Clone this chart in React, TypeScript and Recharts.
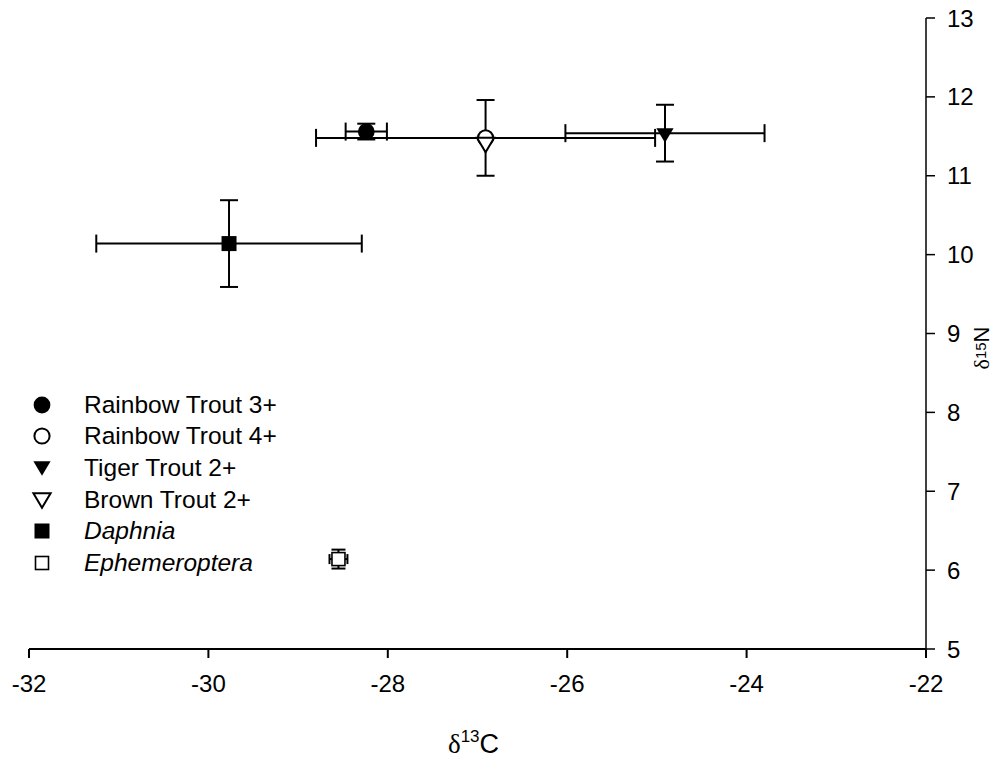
import React from "react";
import { ScatterChart, Scatter, XAxis, YAxis, ErrorBar, Legend, Label } from "recharts";

// axis ticks
const xTicks = [-32, -30, -28, -26, -24, -22];
const yTicks = [5, 6, 7, 8, 9, 10, 11, 12, 13];

// mean values with +/- error (x = d13C, y = d15N)
const rainbowTrout3 = [{ x: -28.24, y: 11.56, xe: 0.23, ye: 0.1 }];
const rainbowTrout4 = [{ x: -26.91, y: 11.48, xe: 1.89, ye: 0.48 }];
const tigerTrout2 = [{ x: -24.91, y: 11.54, xe: 1.11, ye: 0.36 }];
const brownTrout2 = [{ x: -26.91, y: 11.42 }];
const daphnia = [{ x: -29.77, y: 10.14, xe: 1.48, ye: 0.55 }];
const ephemeroptera = [{ x: -28.55, y: 6.14, xe: 0.1, ye: 0.12 }];

const legendItems = [
  { name: "Rainbow Trout 3+", kind: "circle", italic: false },
  { name: "Rainbow Trout 4+", kind: "openCircle", italic: false },
  { name: "Tiger Trout 2+", kind: "triangle", italic: false },
  { name: "Brown Trout 2+", kind: "openTriangle", italic: false },
  { name: "Daphnia", kind: "square", italic: true },
  { name: "Ephemeroptera", kind: "openSquare", italic: true },
];

const FONT = "'Liberation Sans', Arial, sans-serif";

function drawMarker(kind: string, cx: number, cy: number) {
  switch (kind) {
    case "circle":
      return <circle cx={cx} cy={cy} r={8.4} fill="#000" />;
    case "openCircle":
      return <circle cx={cx} cy={cy} r={7.6} fill="#fff" stroke="#000" strokeWidth={2} />;
    case "triangle":
    case "openTriangle": {
      const h = 14.5;
      const w = 8.6;
      const pts = `${cx - w},${cy - h / 3} ${cx + w},${cy - h / 3} ${cx},${cy + (2 * h) / 3}`;
      return kind === "triangle" ? (
        <polygon points={pts} fill="#000" />
      ) : (
        <polygon points={pts} fill="#fff" stroke="#000" strokeWidth={2} strokeLinejoin="miter" />
      );
    }
    case "square":
      return <rect x={cx - 7.5} y={cy - 7.5} width={15} height={15} fill="#000" />;
    case "openSquare":
      return (
        <rect x={cx - 6.5} y={cy - 6.5} width={13} height={13} fill="#fff" stroke="#000" strokeWidth={1.6} />
      );
    default:
      return null;
  }
}

const shapeFor = (kind: string) => (props: any) => <g>{drawMarker(kind, props.cx, props.cy)}</g>;

function LegendBox() {
  return (
    <div style={{ fontFamily: FONT, fontSize: 24.5, color: "#000" }}>
      {legendItems.map((item) => (
        <div key={item.name} style={{ display: "flex", alignItems: "center", height: 31.67 }}>
          <svg width={22} height={22} style={{ marginLeft: 31 }}>
            {drawMarker(item.kind, 11, item.kind.includes("riangle") ? 9 : 11)}
          </svg>
          <span style={{ marginLeft: 31, fontStyle: item.italic ? "italic" : "normal", lineHeight: "28px" }}>
            {item.name}
          </span>
        </div>
      ))}
    </div>
  );
}

function XTitle(props: any) {
  const vb = props.viewBox || { x: 29, y: 649, width: 897, height: 110 };
  const cx = vb.x + vb.width / 2 - 4;
  return (
    <text x={cx} y={753} textAnchor="middle" fill="#000" fontFamily={FONT} fontSize={27}>
      <tspan fontFamily="'Liberation Serif', serif">δ</tspan>
      <tspan fontSize={17} dy={-11}>13</tspan>
      <tspan dy={11}>C</tspan>
    </text>
  );
}

function YTitle() {
  return (
    <text
      x={989}
      y={348}
      transform="rotate(-90 989 348)"
      textAnchor="middle"
      fill="#000"
      fontFamily={FONT}
      fontSize={22}
    >
      <tspan fontFamily="'Liberation Serif', serif">δ</tspan>
      <tspan fontSize={15} dy={-3}>15</tspan>
      <tspan dy={3}>N</tspan>
    </text>
  );
}

const tickStyle = { fill: "#000", fontSize: 24, fontFamily: FONT };

export default function App() {
  return (
    <div style={{ position: "absolute", left: 0, top: 0, background: "#fff" }}>
      <ScatterChart width={1006} height={759} margin={{ top: 18, right: 0, bottom: 0, left: 29 }}>
        <XAxis
          type="number"
          dataKey="x"
          domain={[-32, -22]}
          ticks={xTicks}
          allowDataOverflow
          height={110}
          tickSize={9}
          tickMargin={17}
          tick={tickStyle}
          axisLine={{ stroke: "#000", strokeWidth: 2 }}
          tickLine={{ stroke: "#000", strokeWidth: 2 }}
        >
          <Label content={XTitle} />
        </XAxis>
        <YAxis
          type="number"
          dataKey="y"
          orientation="right"
          domain={[5, 13]}
          ticks={yTicks}
          allowDataOverflow
          width={80}
          tickSize={9}
          tickMargin={12}
          tick={tickStyle}
          axisLine={{ stroke: "#000", strokeWidth: 1.5 }}
          tickLine={{ stroke: "#000", strokeWidth: 1.5 }}
        >
          <Label content={YTitle} />
        </YAxis>
        <Legend
          layout="vertical"
          align="center"
          verticalAlign="middle"
          content={LegendBox}
          wrapperStyle={{ left: 0, top: 389, width: 320 }}
        />
        <Scatter name="Daphnia" data={daphnia} shape={shapeFor("square")} isAnimationActive={false}>
          <ErrorBar dataKey="xe" direction="x" width={9} stroke="#000" strokeWidth={2} />
          <ErrorBar dataKey="ye" direction="y" width={9} stroke="#000" strokeWidth={2} />
        </Scatter>
        <Scatter name="Ephemeroptera" data={ephemeroptera} shape={shapeFor("openSquare")} isAnimationActive={false}>
          <ErrorBar dataKey="xe" direction="x" width={5} stroke="#000" strokeWidth={2} />
          <ErrorBar dataKey="ye" direction="y" width={7} stroke="#000" strokeWidth={2} />
        </Scatter>
        <Scatter name="Tiger Trout 2+" data={tigerTrout2} shape={shapeFor("triangle")} isAnimationActive={false}>
          <ErrorBar dataKey="xe" direction="x" width={9} stroke="#000" strokeWidth={2} />
          <ErrorBar dataKey="ye" direction="y" width={9} stroke="#000" strokeWidth={2} />
        </Scatter>
        <Scatter name="Rainbow Trout 4+" data={rainbowTrout4} shape={shapeFor("openCircle")} isAnimationActive={false}>
          <ErrorBar dataKey="xe" direction="x" width={9} stroke="#000" strokeWidth={2} />
          <ErrorBar dataKey="ye" direction="y" width={9} stroke="#000" strokeWidth={2} />
        </Scatter>
        <Scatter name="Brown Trout 2+" data={brownTrout2} shape={shapeFor("openTriangle")} isAnimationActive={false} />
        <Scatter name="Rainbow Trout 3+" data={rainbowTrout3} shape={shapeFor("circle")} isAnimationActive={false}>
          <ErrorBar dataKey="xe" direction="x" width={9} stroke="#000" strokeWidth={2} />
          <ErrorBar dataKey="ye" direction="y" width={9} stroke="#000" strokeWidth={2} />
        </Scatter>
      </ScatterChart>
    </div>
  );
}
